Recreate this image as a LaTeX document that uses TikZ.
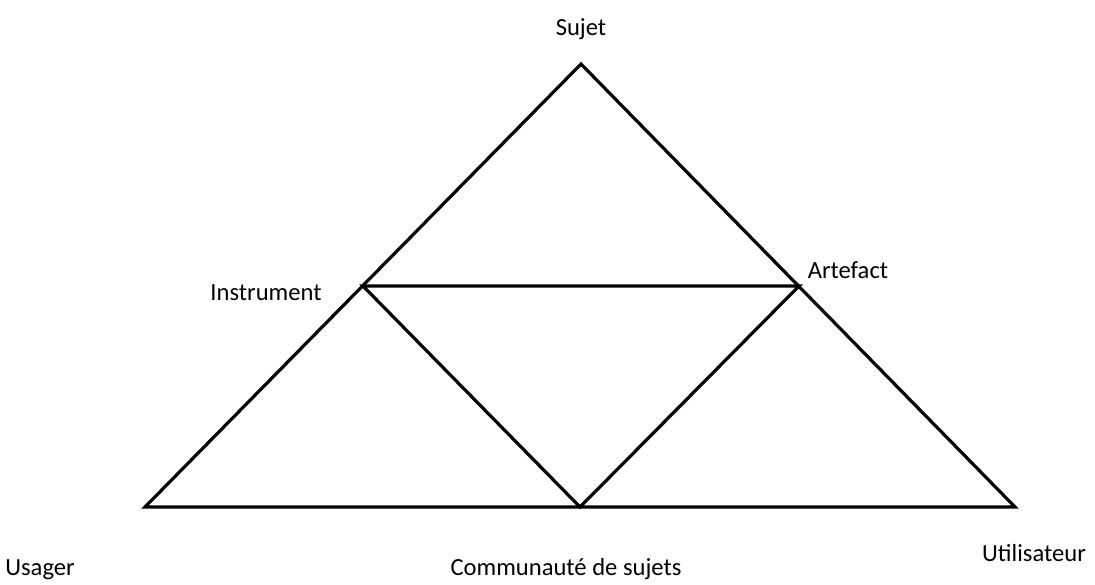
\documentclass[tikz,border=0pt]{standalone}
\usepackage{fontspec}
\setmainfont{Carlito}
\begin{document}
\begin{tikzpicture}[x=1pt,y=-1pt,
  edge/.style={line width=3.2pt,line join=miter},
  lbl/.style={font=\fontsize{24.6}{29}\selectfont,inner sep=0pt,anchor=base}]
\useasboundingbox (0,0) rectangle (1095,584);
\coordinate (S) at (581,64);
\coordinate (L) at (145,507);
\coordinate (R) at (1015,507);
\coordinate (I) at (363,286);
\coordinate (A) at (799,286);
\coordinate (M) at (580,507);
\draw[edge] (S) -- (R) -- (L) -- cycle;
\draw[edge] (I) -- (A) -- (M) -- cycle;
\node[lbl] (sujet) at (581,35) {Sujet};
\node[lbl] (instr) at (266,300) {Instrument};
\node[lbl] (arte) at (848,278) {Artefact};
\node[lbl] (usag) at (40,575) {Usager};
\node[lbl] (comm) at (566,575) {Communauté de sujets};
\node[lbl] (util) at (1034,561) {Utilisateur};
\end{tikzpicture}
\end{document}
